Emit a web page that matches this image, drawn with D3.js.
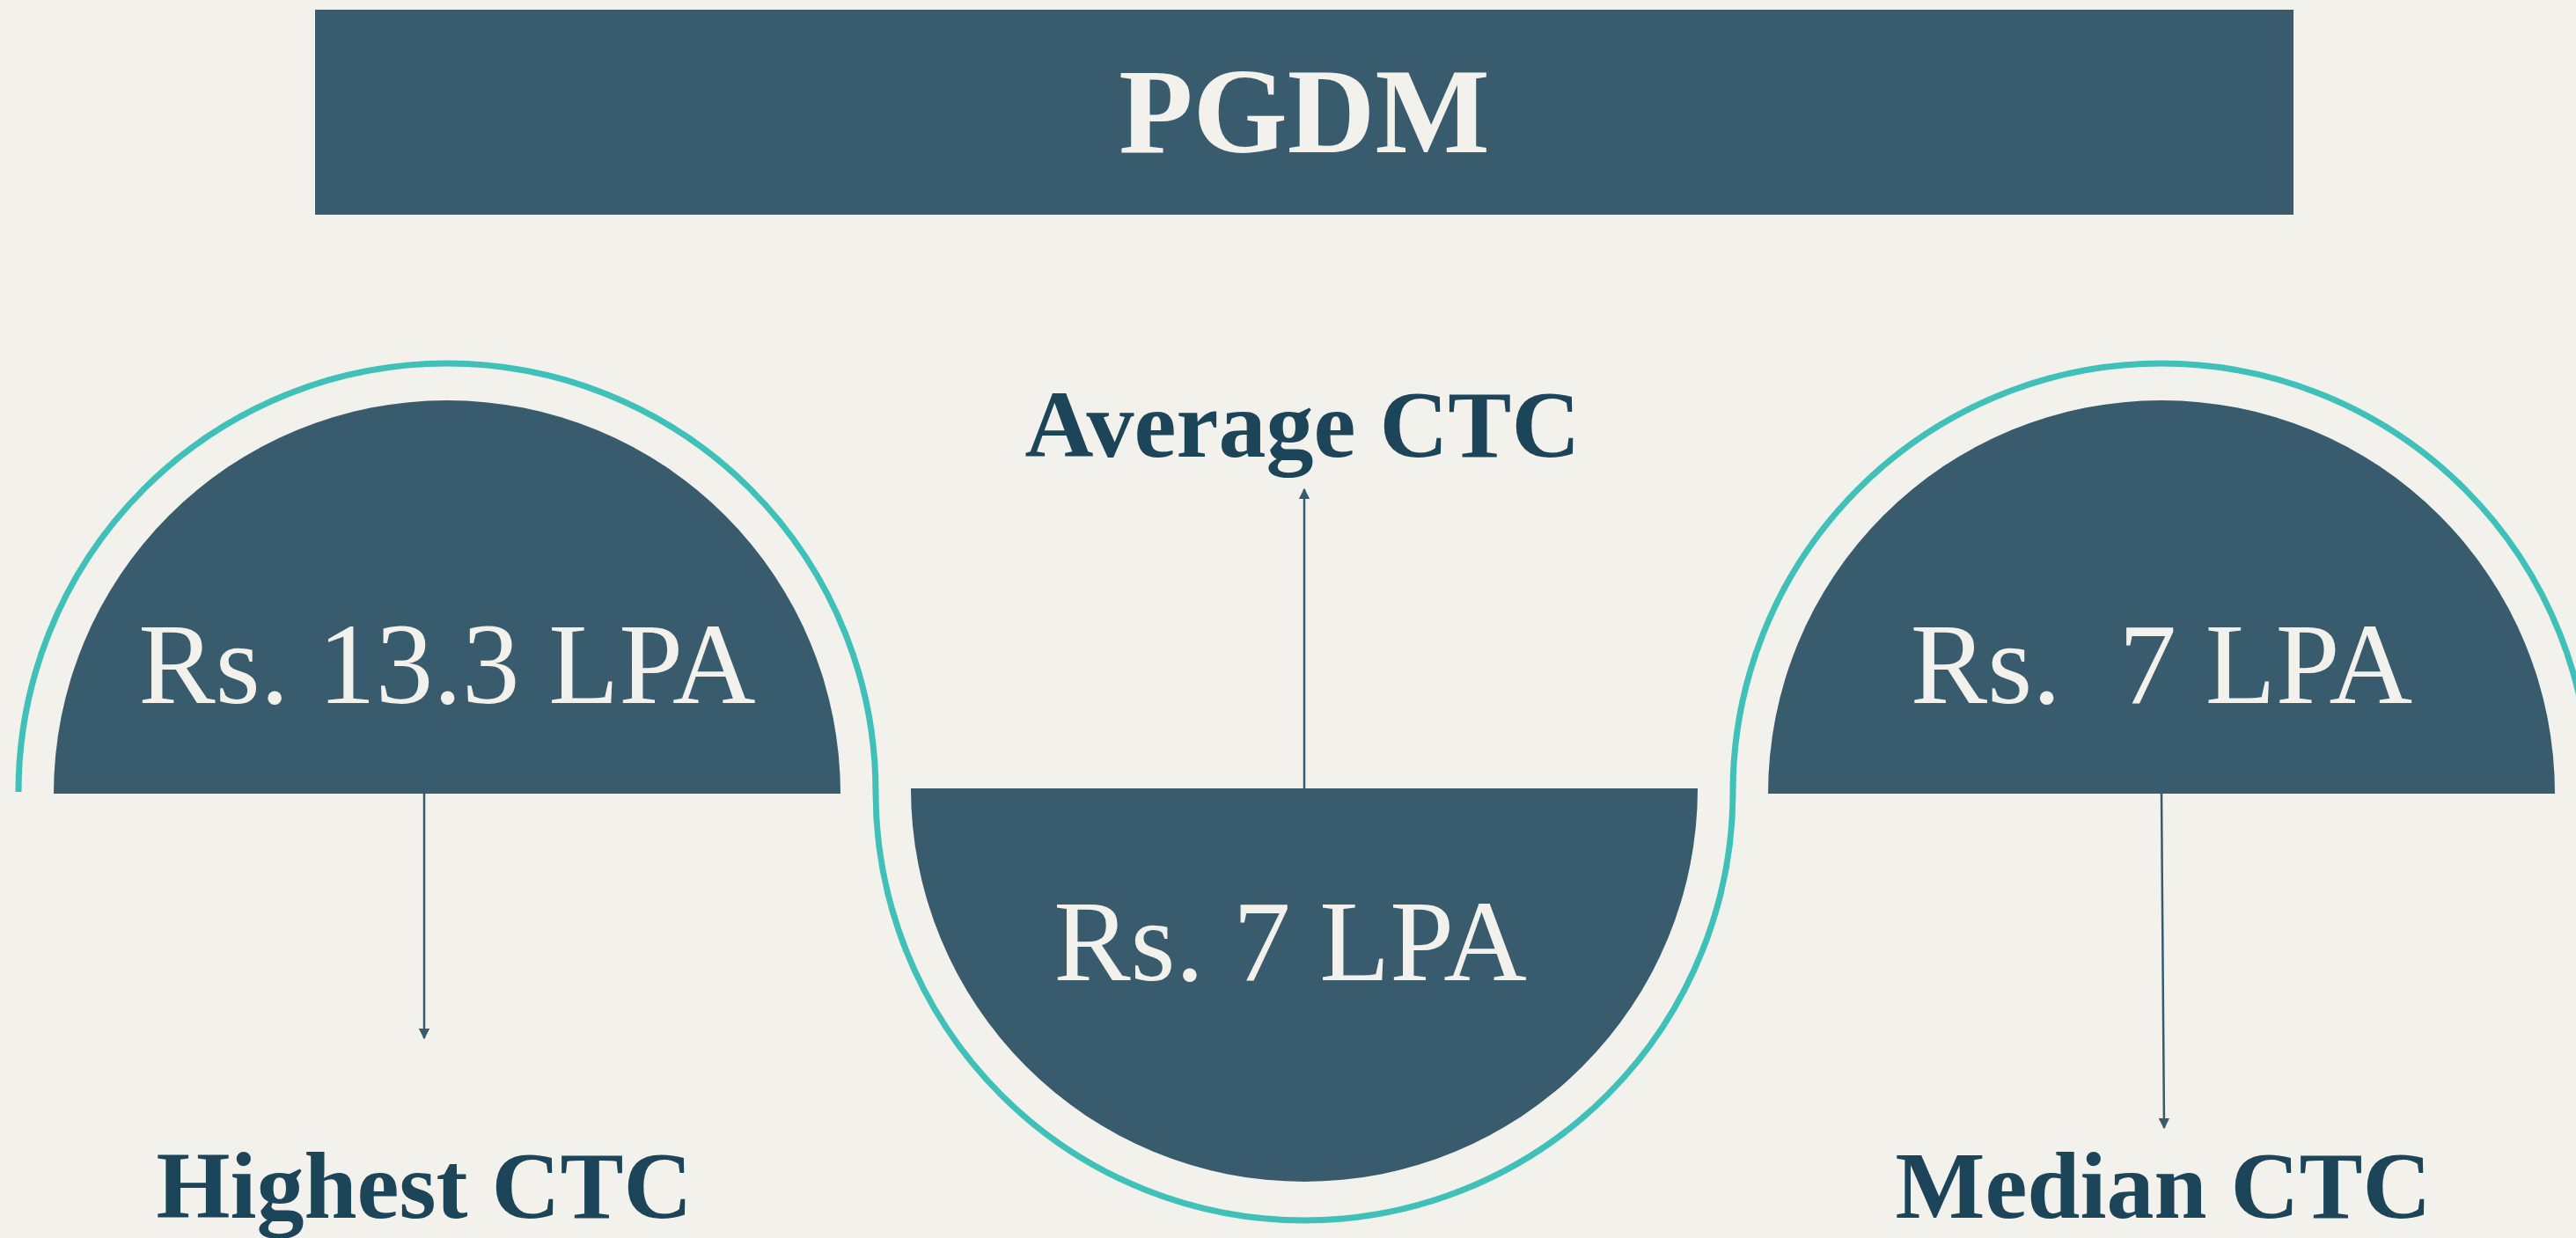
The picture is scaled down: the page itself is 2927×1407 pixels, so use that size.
<!DOCTYPE html>
<html>
<head>
<meta charset="utf-8">
<script src="https://cdn.jsdelivr.net/npm/d3@7"></script>
<style>
  html, body { margin: 0; padding: 0; background: #f3f1ec; }
  svg { display: block; }
</style>
</head>
<body>
<div id="chart"></div>
<script>
// PGDM placement figures

// Data
var title = "PGDM";
var metrics = ["Highest CTC", "Average CTC", "Median CTC"];
var amounts = [13.3, 7, 7];
var amountLabels = ["Rs. 13.3 LPA", "Rs. 7 LPA", "Rs.  7 LPA"];
var directions = ["up", "down", "up"];

// Canvas setup
var width = 2927;
var height = 1407;
var baseY = 900;
var bowlR = 447;
var ringR = 487;

var bg = "#f3f1ec";
var slate = "#385b6d";
var ink = "#1d4559";
var teal = "#3fc0b9";

var svg = d3.select("#chart")
    .append("svg")
    .attr("width", width)
    .attr("height", height);

svg.append("rect")
    .attr("width", width)
    .attr("height", height)
    .attr("fill", bg);

// x position of each metric
var x = d3.scalePoint()
    .domain(metrics)
    .range([508, 2456]);

// Title banner
svg.append("rect")
    .attr("x", 358)
    .attr("y", 11)
    .attr("width", 2248)
    .attr("height", 233)
    .attr("fill", slate);

svg.append("text")
    .attr("x", 1482)
    .attr("y", 173)
    .attr("text-anchor", "middle")
    .attr("font-family", "'Liberation Serif', 'Times New Roman', serif")
    .attr("font-weight", "bold")
    .attr("font-size", 138)
    .attr("fill", bg)
    .text(title);

// Teal wave behind the bowls
var wave = d3.path();
metrics.forEach(function(m, i) {
    var cx = x(m);
    if (i === 0) wave.moveTo(cx - ringR, baseY);
    if (directions[i] === "up") {
        wave.arc(cx, baseY, ringR, Math.PI, 2 * Math.PI, false);
    } else {
        wave.arc(cx, baseY, ringR, Math.PI, 0, true);
    }
});
svg.append("path")
    .attr("d", wave.toString())
    .attr("fill", "none")
    .attr("stroke", teal)
    .attr("stroke-width", 7);

// Half-disc shapes
var bowl = d3.arc().innerRadius(0).outerRadius(bowlR);

var data = metrics.map(function(m, i) {
    return { metric: m, amount: amounts[i], label: amountLabels[i], dir: directions[i] };
});

var groups = svg.selectAll("g.item")
    .data(data)
    .enter()
    .append("g")
    .attr("class", "item");

groups.append("path")
    .attr("transform", function(d) {
        return "translate(" + x(d.metric) + "," + (d.dir === "up" ? baseY + 2 : baseY - 4) + ")";
    })
    .attr("d", function(d) {
        return d.dir === "up"
            ? bowl({ startAngle: -Math.PI / 2, endAngle: Math.PI / 2 })
            : bowl({ startAngle: Math.PI / 2, endAngle: 3 * Math.PI / 2 });
    })
    .attr("fill", slate);

// Value text inside each half-disc
groups.append("text")
    .attr("x", function(d) { return d.dir === "up" ? x(d.metric) : x(d.metric) - 16; })
    .attr("y", function(d) { return d.dir === "up" ? 799 : 1114; })
    .attr("text-anchor", "middle")
    .attr("font-family", "'Liberation Serif', 'Times New Roman', serif")
    .attr("font-size", 131)
    .attr("fill", bg)
    .style("white-space", "pre")
    .text(function(d) { return d.label; });

// Arrow heads
svg.append("defs")
    .append("marker")
    .attr("id", "tip")
    .attr("viewBox", "0 0 10 10")
    .attr("refX", 9)
    .attr("refY", 5)
    .attr("markerWidth", 5)
    .attr("markerHeight", 5)
    .attr("markerUnits", "strokeWidth")
    .attr("orient", "auto")
    .append("path")
    .attr("d", "M0,0L10,5L0,10Z")
    .attr("fill", slate);

// Pointer lines
var tipY = { up: 1282, down: 556 };
groups.append("line")
    .attr("x1", function(d) { return x(d.metric) - (d.metric === metrics[0] ? 26 : 0); })
    .attr("y1", function(d) { return d.dir === "up" ? baseY + 2 : baseY - 4; })
    .attr("x2", function(d, i) {
        if (i === 0) return x(d.metric) - 26;
        if (i === 2) return x(d.metric) + 3;
        return x(d.metric);
    })
    .attr("y2", function(d, i) { return i === 0 ? 1180 : tipY[d.dir]; })
    .attr("stroke", slate)
    .attr("stroke-width", 2.5)
    .attr("marker-end", "url(#tip)");

// Metric labels
groups.append("text")
    .attr("x", function(d, i) {
        if (i === 0) return x(d.metric) - 26;
        if (i === 2) return x(d.metric) + 2;
        return x(d.metric) - 2;
    })
    .attr("y", function(d) { return d.dir === "up" ? 1384 : 519; })
    .attr("text-anchor", "middle")
    .attr("font-family", "'Liberation Serif', 'Times New Roman', serif")
    .attr("font-weight", "bold")
    .attr("font-size", 108)
    .attr("fill", ink)
    .text(function(d) { return d.metric; });
</script>
</body>
</html>
